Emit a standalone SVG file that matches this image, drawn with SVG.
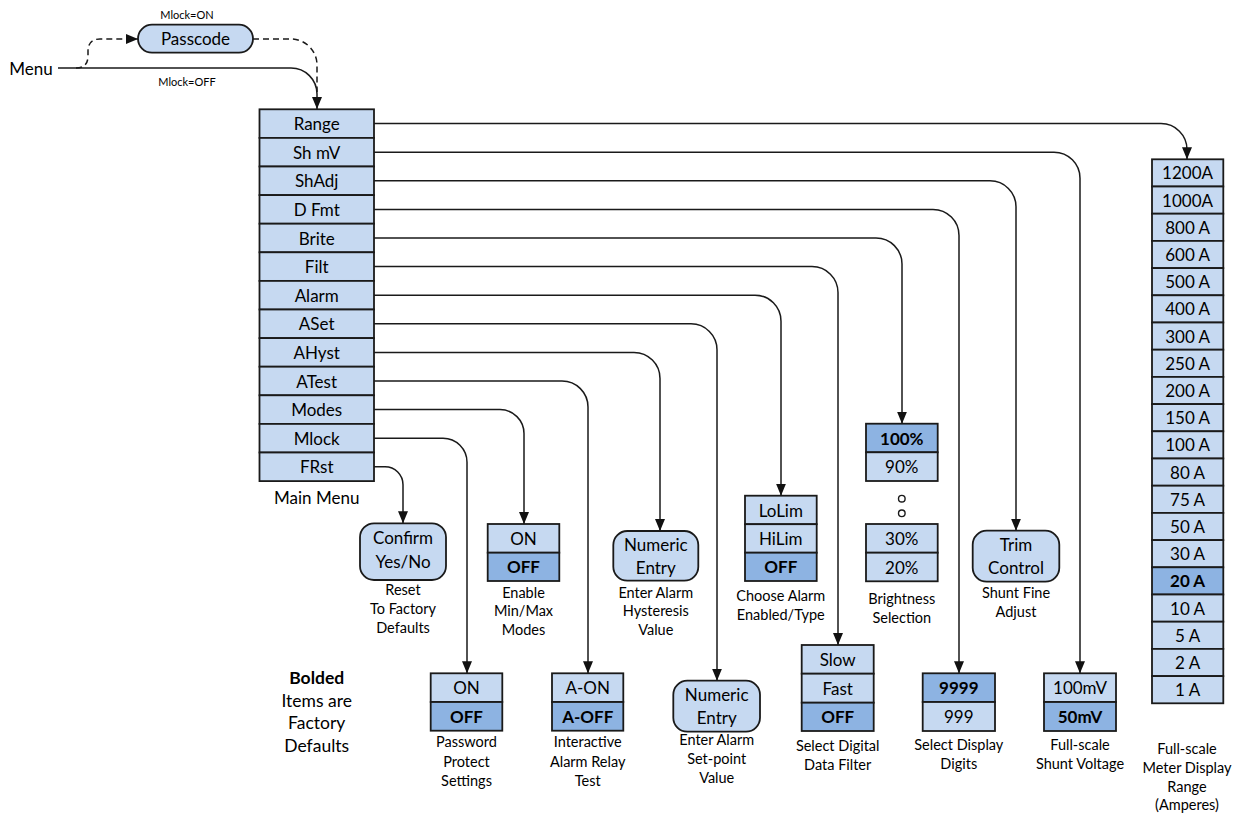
<svg xmlns="http://www.w3.org/2000/svg" width="1239" height="815" viewBox="0 0 1239 815">
<style>
text{font-family:Lato,"Liberation Sans",sans-serif;fill:#000;text-anchor:middle;dominant-baseline:central}
.b{font-size:17px}
.c{font-size:14.5px}
.s{font-size:11px}
.bold{font-weight:bold}
.lt{fill:#c6d9f1;stroke:#1a1a1a;stroke-width:1.8}
.dk{fill:#8db3e2;stroke:#1a1a1a;stroke-width:1.8}
.ln{fill:none;stroke:#1a1a1a;stroke-width:1.5}
.dash{stroke-dasharray:6 4}
</style>
<defs>
<marker id="ah" markerWidth="12" markerHeight="10" refX="12" refY="5" orient="auto" markerUnits="userSpaceOnUse">
<path d="M0,0 L12,5 L0,10 Z" fill="#111"/>
</marker>
</defs>

<g id="connectors">
<path class="ln" d="M58,68 H291 A26,26 0 0 1 317,94 V109" marker-end="url(#ah)"/>
<path class="ln dash" d="M76,68 Q88,68 88,56 V51 Q88,39 100,39 H138" marker-end="url(#ah)"/>
<path class="ln dash" d="M253,39 H291 A26,26 0 0 1 317,65 V92"/>
<path class="ln" d="M374,123.6 H1161 A26,26 0 0 1 1187,149.6 V159.3" marker-end="url(#ah)"/>
<path class="ln" d="M374,152.2 H1054 A26,26 0 0 1 1080,178.2 V673.3" marker-end="url(#ah)"/>
<path class="ln" d="M374,180.8 H990 A26,26 0 0 1 1016,206.8 V530.7" marker-end="url(#ah)"/>
<path class="ln" d="M374,209.4 H933 A26,26 0 0 1 959,235.4 V673.3" marker-end="url(#ah)"/>
<path class="ln" d="M374,238 H876 A26,26 0 0 1 902,264 V423.7" marker-end="url(#ah)"/>
<path class="ln" d="M374,266.6 H812 A26,26 0 0 1 838,292.6 V645" marker-end="url(#ah)"/>
<path class="ln" d="M374,295.2 H755 A26,26 0 0 1 781,321.2 V495.7" marker-end="url(#ah)"/>
<path class="ln" d="M374,323.8 H691 A26,26 0 0 1 717,349.8 V680.7" marker-end="url(#ah)"/>
<path class="ln" d="M374,352.4 H634 A26,26 0 0 1 660,378.4 V531" marker-end="url(#ah)"/>
<path class="ln" d="M374,381 H562 A26,26 0 0 1 588,407 V673.3" marker-end="url(#ah)"/>
<path class="ln" d="M374,409.6 H500 A24,24 0 0 1 524,433.6 V524" marker-end="url(#ah)"/>
<path class="ln" d="M374,438.2 H443 A24,24 0 0 1 467,462.2 V673.3" marker-end="url(#ah)"/>
<path class="ln" d="M374,466.8 H385 A18,18 0 0 1 403,484.8 V523.3" marker-end="url(#ah)"/>
</g>

<g id="menu-label"><text class="b" x="31" y="68">Menu</text></g>
<g id="mlock-labels">
<text class="s" x="187" y="14">Mlock=ON</text>
<text class="s" x="187" y="81">Mlock=OFF</text>
</g>
<g id="passcode">
<rect class="lt" x="138" y="24.7" width="115" height="28" rx="14"/>
<text class="b" x="195.5" y="38.7">Passcode</text>
</g>

<g id="main-menu">
<rect class="lt" x="259.5" y="109.3" width="114.5" height="28.6"/><text class="b" x="316.7" y="123.6">Range</text>
<rect class="lt" x="259.5" y="137.9" width="114.5" height="28.6"/><text class="b" x="316.7" y="152.2">Sh mV</text>
<rect class="lt" x="259.5" y="166.5" width="114.5" height="28.6"/><text class="b" x="316.7" y="180.8">ShAdj</text>
<rect class="lt" x="259.5" y="195.1" width="114.5" height="28.6"/><text class="b" x="316.7" y="209.4">D Fmt</text>
<rect class="lt" x="259.5" y="223.7" width="114.5" height="28.6"/><text class="b" x="316.7" y="238">Brite</text>
<rect class="lt" x="259.5" y="252.3" width="114.5" height="28.6"/><text class="b" x="316.7" y="266.6">Filt</text>
<rect class="lt" x="259.5" y="280.9" width="114.5" height="28.6"/><text class="b" x="316.7" y="295.2">Alarm</text>
<rect class="lt" x="259.5" y="309.5" width="114.5" height="28.6"/><text class="b" x="316.7" y="323.8">ASet</text>
<rect class="lt" x="259.5" y="338.1" width="114.5" height="28.6"/><text class="b" x="316.7" y="352.4">AHyst</text>
<rect class="lt" x="259.5" y="366.7" width="114.5" height="28.6"/><text class="b" x="316.7" y="381">ATest</text>
<rect class="lt" x="259.5" y="395.3" width="114.5" height="28.6"/><text class="b" x="316.7" y="409.6">Modes</text>
<rect class="lt" x="259.5" y="423.9" width="114.5" height="28.6"/><text class="b" x="316.7" y="438.2">Mlock</text>
<rect class="lt" x="259.5" y="452.5" width="114.5" height="28.6"/><text class="b" x="316.7" y="466.8">FRst</text>
<text class="b" x="316.7" y="497">Main Menu</text>
</g>

<g id="range-options">
<rect class="lt" x="1152" y="159.3" width="71.3" height="27.2"/><text class="b" x="1187.6" y="172.9">1200A</text>
<rect class="lt" x="1152" y="186.5" width="71.3" height="27.2"/><text class="b" x="1187.6" y="200.1">1000A</text>
<rect class="lt" x="1152" y="213.7" width="71.3" height="27.2"/><text class="b" x="1187.6" y="227.3">800 A</text>
<rect class="lt" x="1152" y="240.9" width="71.3" height="27.2"/><text class="b" x="1187.6" y="254.5">600 A</text>
<rect class="lt" x="1152" y="268.1" width="71.3" height="27.2"/><text class="b" x="1187.6" y="281.7">500 A</text>
<rect class="lt" x="1152" y="295.3" width="71.3" height="27.2"/><text class="b" x="1187.6" y="308.9">400 A</text>
<rect class="lt" x="1152" y="322.5" width="71.3" height="27.2"/><text class="b" x="1187.6" y="336.1">300 A</text>
<rect class="lt" x="1152" y="349.7" width="71.3" height="27.2"/><text class="b" x="1187.6" y="363.3">250 A</text>
<rect class="lt" x="1152" y="376.9" width="71.3" height="27.2"/><text class="b" x="1187.6" y="390.5">200 A</text>
<rect class="lt" x="1152" y="404.1" width="71.3" height="27.2"/><text class="b" x="1187.6" y="417.7">150 A</text>
<rect class="lt" x="1152" y="431.3" width="71.3" height="27.2"/><text class="b" x="1187.6" y="444.9">100 A</text>
<rect class="lt" x="1152" y="458.5" width="71.3" height="27.2"/><text class="b" x="1187.6" y="472.1">80 A</text>
<rect class="lt" x="1152" y="485.7" width="71.3" height="27.2"/><text class="b" x="1187.6" y="499.3">75 A</text>
<rect class="lt" x="1152" y="512.9" width="71.3" height="27.2"/><text class="b" x="1187.6" y="526.5">50 A</text>
<rect class="lt" x="1152" y="540.1" width="71.3" height="27.2"/><text class="b" x="1187.6" y="553.7">30 A</text>
<rect class="dk" x="1152" y="567.3" width="71.3" height="27.2"/><text class="b bold" x="1187.6" y="580.9">20 A</text>
<rect class="lt" x="1152" y="594.5" width="71.3" height="27.2"/><text class="b" x="1187.6" y="608.1">10 A</text>
<rect class="lt" x="1152" y="621.7" width="71.3" height="27.2"/><text class="b" x="1187.6" y="635.3">5 A</text>
<rect class="lt" x="1152" y="648.9" width="71.3" height="27.2"/><text class="b" x="1187.6" y="662.5">2 A</text>
<rect class="lt" x="1152" y="676.1" width="71.3" height="27.2"/><text class="b" x="1187.6" y="689.7">1 A</text>
<text class="c" x="1187" y="748.3">Full-scale</text>
<text class="c" x="1187" y="767.7">Meter Display</text>
<text class="c" x="1187" y="786">Range</text>
<text class="c" x="1187" y="804.7">(Amperes)</text>
</g>

<g id="frst-confirm">
<rect class="lt" x="360" y="523.3" width="86" height="56.7" rx="14"/>
<text class="b" x="403" y="537">Confirm</text>
<text class="b" x="403" y="561">Yes/No</text>
<text class="c" x="403" y="589.3">Reset</text>
<text class="c" x="403" y="608">To Factory</text>
<text class="c" x="403" y="627">Defaults</text>
</g>

<g id="modes-options">
<rect class="lt" x="487.7" y="524" width="71.6" height="28.7"/><text class="b" x="523.5" y="538.3">ON</text>
<rect class="dk" x="487.7" y="552.7" width="71.6" height="28.3"/><text class="b bold" x="523.5" y="566.8">OFF</text>
<text class="c" x="523.5" y="592">Enable</text>
<text class="c" x="523.5" y="610.5">Min/Max</text>
<text class="c" x="523.5" y="629">Modes</text>
</g>

<g id="ahyst-entry">
<rect class="lt" x="613.3" y="531" width="85" height="49.7" rx="14"/>
<text class="b" x="655.8" y="544.5">Numeric</text>
<text class="b" x="655.8" y="567.8">Entry</text>
<text class="c" x="655.8" y="592">Enter Alarm</text>
<text class="c" x="655.8" y="610.5">Hysteresis</text>
<text class="c" x="655.8" y="629">Value</text>
</g>

<g id="alarm-options">
<rect class="lt" x="745" y="495.7" width="71.7" height="28.5"/><text class="b" x="780.8" y="510">LoLim</text>
<rect class="lt" x="745" y="524.2" width="71.7" height="28.5"/><text class="b" x="780.8" y="538.5">HiLim</text>
<rect class="dk" x="745" y="552.7" width="71.7" height="28.3"/><text class="b bold" x="780.8" y="566.8">OFF</text>
<text class="c" x="780.8" y="595">Choose Alarm</text>
<text class="c" x="780.8" y="614">Enabled/Type</text>
</g>

<g id="brite-options">
<rect class="dk" x="866" y="423.7" width="71.7" height="28.6"/><text class="b bold" x="901.8" y="438">100%</text>
<rect class="lt" x="866" y="452.3" width="71.7" height="28.7"/><text class="b" x="901.8" y="466.6">90%</text>
<circle cx="901.8" cy="498.7" r="3.3" fill="none" stroke="#1a1a1a" stroke-width="1.4"/>
<circle cx="901.8" cy="513.3" r="3.3" fill="none" stroke="#1a1a1a" stroke-width="1.4"/>
<rect class="lt" x="866" y="524" width="71.7" height="28.7"/><text class="b" x="901.8" y="538.3">30%</text>
<rect class="lt" x="866" y="552.7" width="71.7" height="28.6"/><text class="b" x="901.8" y="567">20%</text>
<text class="c" x="901.8" y="598.3">Brightness</text>
<text class="c" x="901.8" y="617.3">Selection</text>
</g>

<g id="shadj-trim">
<rect class="lt" x="972.7" y="530.7" width="86.6" height="51" rx="14"/>
<text class="b" x="1016" y="544.3">Trim</text>
<text class="b" x="1016" y="567.5">Control</text>
<text class="c" x="1016" y="592.7">Shunt Fine</text>
<text class="c" x="1016" y="611.7">Adjust</text>
</g>

<g id="mlock-options">
<rect class="lt" x="430.7" y="673.3" width="71.6" height="28.7"/><text class="b" x="466.5" y="687.6">ON</text>
<rect class="dk" x="430.7" y="702" width="71.6" height="28.7"/><text class="b bold" x="466.5" y="716.3">OFF</text>
<text class="c" x="466.5" y="741.7">Password</text>
<text class="c" x="466.5" y="761">Protect</text>
<text class="c" x="466.5" y="780">Settings</text>
</g>

<g id="atest-options">
<rect class="lt" x="552" y="673.3" width="71.3" height="28.7"/><text class="b" x="587.7" y="687.6">A-ON</text>
<rect class="dk" x="552" y="702" width="71.3" height="28.7"/><text class="b bold" x="587.7" y="716.3">A-OFF</text>
<text class="c" x="587.7" y="741.7">Interactive</text>
<text class="c" x="587.7" y="761">Alarm Relay</text>
<text class="c" x="587.7" y="780">Test</text>
</g>

<g id="aset-entry">
<rect class="lt" x="673.3" y="680.7" width="86.7" height="51" rx="14"/>
<text class="b" x="716.7" y="694.3">Numeric</text>
<text class="b" x="716.7" y="717.5">Entry</text>
<text class="c" x="716.7" y="739.3">Enter Alarm</text>
<text class="c" x="716.7" y="758.7">Set-point</text>
<text class="c" x="716.7" y="777">Value</text>
</g>

<g id="filt-options">
<rect class="lt" x="801.7" y="645" width="72" height="28.7"/><text class="b" x="837.7" y="659.3">Slow</text>
<rect class="lt" x="801.7" y="673.7" width="72" height="29"/><text class="b" x="837.7" y="688.2">Fast</text>
<rect class="dk" x="801.7" y="702.7" width="72" height="28.3"/><text class="b bold" x="837.7" y="716.8">OFF</text>
<text class="c" x="837.7" y="745">Select Digital</text>
<text class="c" x="837.7" y="764">Data Filter</text>
</g>

<g id="dfmt-options">
<rect class="dk" x="922.7" y="673.3" width="72.3" height="28.7"/><text class="b bold" x="958.8" y="687.6">9999</text>
<rect class="lt" x="922.7" y="702" width="72.3" height="29"/><text class="b" x="958.8" y="716.5">999</text>
<text class="c" x="958.8" y="744">Select Display</text>
<text class="c" x="958.8" y="763">Digits</text>
</g>

<g id="shmv-options">
<rect class="lt" x="1044" y="673.3" width="72" height="28.7"/><text class="b" x="1080" y="687.6">100mV</text>
<rect class="dk" x="1044" y="702" width="72" height="29"/><text class="b bold" x="1080" y="716.5">50mV</text>
<text class="c" x="1080" y="744">Full-scale</text>
<text class="c" x="1080" y="763">Shunt Voltage</text>
</g>

<g id="legend">
<text class="b bold" style="font-size:17.5px" x="316.7" y="677.3">Bolded</text>
<text class="b" style="font-size:17.5px" x="316.7" y="700">Items are</text>
<text class="b" style="font-size:17.5px" x="316.7" y="722.5">Factory</text>
<text class="b" style="font-size:17.5px" x="316.7" y="745">Defaults</text>
</g>
</svg>
